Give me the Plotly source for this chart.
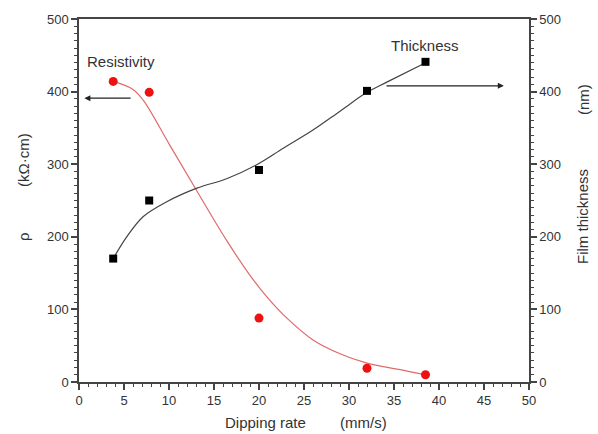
import plotly.graph_objects as go

# Measured data
rate = [3.8, 7.8, 20.0, 32.0, 38.5]
resistivity = [414, 399, 88, 19, 10]
thickness = [170, 250, 292, 401, 441]

# Fitted curves
res_fit_x = [3.8, 6.0, 7.15, 10.1, 13.1, 16.4, 19.0, 20.9, 23.1, 26.0, 29.0, 32.0, 35.7, 38.4]
res_fit_y = [414, 403, 388, 326, 263, 195, 147, 117, 88, 58, 39, 26, 17, 10]
thk_fit_x = [3.8, 5.3, 7.15, 9.7, 13.1, 16.4, 19.7, 22.7, 26.0, 29.0, 32.0, 34.2, 38.4]
thk_fit_y = [170, 200, 228, 248, 267, 280, 299, 322, 347, 373, 399, 413, 439]

x_ticks = [0, 5, 10, 15, 20, 25, 30, 35, 40, 45, 50]
y_ticks = [0, 100, 200, 300, 400, 500]

FONT = "Liberation Sans, Arial, sans-serif"
AX = "#444444"
TXT = "#333333"

fig = go.Figure()
fig.add_trace(go.Scatter(x=res_fit_x, y=res_fit_y, mode="lines",
                         line=dict(color="#e06a6a", width=1.2, shape="spline", smoothing=1),
                         showlegend=False, hoverinfo="skip"))
fig.add_trace(go.Scatter(x=thk_fit_x, y=thk_fit_y, mode="lines", yaxis="y2",
                         line=dict(color="#444444", width=1.2, shape="spline", smoothing=1),
                         showlegend=False, hoverinfo="skip"))
fig.add_trace(go.Scatter(x=rate, y=resistivity, mode="markers",
                         marker=dict(symbol="circle", size=9, color="#ee1111"),
                         showlegend=False))
fig.add_trace(go.Scatter(x=rate, y=thickness, mode="markers", yaxis="y2",
                         marker=dict(symbol="square", size=8, color="#000000"),
                         showlegend=False))

axis_common = dict(showgrid=False, zeroline=False, showline=True, linecolor=AX,
                   linewidth=1.5, ticks="outside", ticklen=6, tickwidth=1.5,
                   tickcolor=AX, tickfont=dict(family=FONT, size=13, color=TXT))

fig.update_layout(
    width=598, height=434,
    margin=dict(l=79, r=69, t=19, b=52),
    paper_bgcolor="white", plot_bgcolor="white",
    font=dict(family=FONT, color=TXT),
    xaxis=dict(range=[0, 50], tickvals=x_ticks, mirror=True,
               minor=dict(dtick=1, ticks="outside", ticklen=3, tickcolor=AX, tickwidth=1),
               **axis_common),
    yaxis=dict(range=[0, 500], tickvals=y_ticks,
               minor=dict(dtick=10, ticks="outside", ticklen=3, tickcolor=AX, tickwidth=1),
               **axis_common),
    yaxis2=dict(range=[0, 500], tickvals=y_ticks, overlaying="y", side="right",
                minor=dict(dtick=10, ticks="outside", ticklen=3, tickcolor=AX, tickwidth=1),
                **axis_common),
)

ann = [
    dict(text="Dipping rate", x=265, y=423),
    dict(text="(mm/s)", x=363, y=423),
]
for a in ann:
    fig.add_annotation(text=a["text"], xref="paper", yref="paper",
                       x=(a["x"] - 79) / 450, y=(382 - a["y"]) / 363,
                       showarrow=False, font=dict(family=FONT, size=15, color=TXT),
                       xanchor="center", yanchor="middle")

rot = [
    dict(text="ρ", x=23, y=237),
    dict(text="(kΩ·cm)", x=23, y=160),
    dict(text="Film thickness", x=583, y=217),
    dict(text="(nm)", x=583, y=100),
]
for a in rot:
    fig.add_annotation(text=a["text"], xref="paper", yref="paper",
                       x=(a["x"] - 79) / 450, y=(382 - a["y"]) / 363,
                       showarrow=False, textangle=-90,
                       font=dict(family=FONT, size=15, color=TXT),
                       xanchor="center", yanchor="middle")

fig.add_annotation(text="Resistivity", xref="x", yref="y", x=4.7, y=441,
                   showarrow=False, font=dict(family=FONT, size=15, color=TXT))
fig.add_annotation(text="Thickness", xref="x", yref="y", x=38.4, y=463,
                   showarrow=False, font=dict(family=FONT, size=15, color=TXT))

# arrows
fig.add_annotation(x=0.6, y=391, ax=5.9, ay=391, xref="x", yref="y", axref="x", ayref="y",
                   text="", showarrow=True, arrowhead=2, arrowsize=1, arrowwidth=1.2,
                   arrowcolor="#222222")
fig.add_annotation(x=47.2, y=408, ax=34.0, ay=408, xref="x", yref="y", axref="x", ayref="y",
                   text="", showarrow=True, arrowhead=2, arrowsize=1, arrowwidth=1.2,
                   arrowcolor="#222222")

fig.write_html("out.html")
